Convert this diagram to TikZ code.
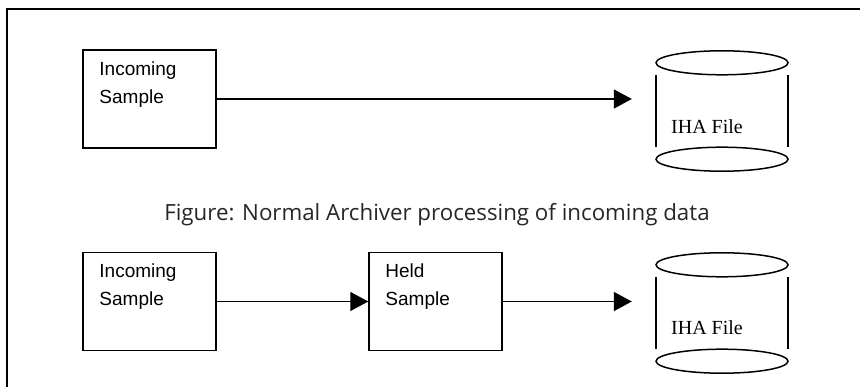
\documentclass[tikz,border=0pt]{standalone}
\usepackage{fontspec}
\setmainfont{Liberation Sans}
\newfontfamily\capfont{Open Sans}
\newfontfamily\filefont{Liberation Serif}
\tikzset{
  sample/.style={draw, line width=1.5pt, minimum width=133pt, minimum height=98pt},
  inlabel/.style={anchor=north west, inner sep=0pt, xshift=17pt, yshift=-12pt,
    align=left, font=\fontsize{19}{28}\selectfont},
  dbfile/.style={minimum width=132pt, minimum height=96pt, inner sep=0pt},
  dbtext/.style={font=\filefont\fontsize{20}{24}\selectfont, inner sep=0pt},
  flow/.style={->, line width=1.5pt, >={Triangle[length=18pt,width=19pt]}}
}
\usetikzlibrary{arrows.meta}
\begin{document}
\begin{tikzpicture}[x=1pt,y=-1pt]
  \useasboundingbox (0,0) rectangle (860,387);
  \draw[line width=1.2pt] (7,387) -- (7,9) -- (860,9);
  % normal processing
  \node[sample, label={[inlabel]north west:Incoming\\Sample}] (in1) at (149.5,99) {};
  \node[dbfile] (db1) at (722,111) {};
  \node[dbtext] (f1) at (707,127) {IHA File};
  \draw[flow, shorten >=24pt] (in1.east) -- (in1.east -| db1.west);
  \draw[line width=1.5pt] (db1.north) ellipse [x radius=66pt, y radius=12pt]
    (db1.south) ellipse [x radius=66pt, y radius=12pt];
  \draw[line width=1.5pt] ([yshift=-12pt]db1.north west) -- ([yshift=12pt]db1.south west)
    ([yshift=-12pt]db1.north east) -- ([yshift=12pt]db1.south east);
  \node[font=\capfont\fontsize{22.3}{26}\selectfont, text=black!85] (cap) at (437,215)
    {Figure: Normal Archiver processing of incoming data};
  % held sample
  \node[sample, label={[inlabel]north west:Incoming\\Sample}] (in2) at (149.5,301.5) {};
  \node[sample, label={[inlabel]north west:Held\\Sample}] (held) at (435.5,301.5) {};
  \node[dbfile] (db2) at (722,313) {};
  \node[dbtext] (f2) at (707,328) {IHA File};
  \draw[flow] (in2) -- (held);
  \draw[flow, shorten >=24pt] (held.east) -- (held.east -| db2.west);
  \draw[line width=1.5pt] (db2.north) ellipse [x radius=66pt, y radius=12pt]
    (db2.south) ellipse [x radius=66pt, y radius=12pt];
  \draw[line width=1.5pt] ([yshift=-12pt]db2.north west) -- ([yshift=12pt]db2.south west)
    ([yshift=-12pt]db2.north east) -- ([yshift=12pt]db2.south east);
\end{tikzpicture}
\end{document}
